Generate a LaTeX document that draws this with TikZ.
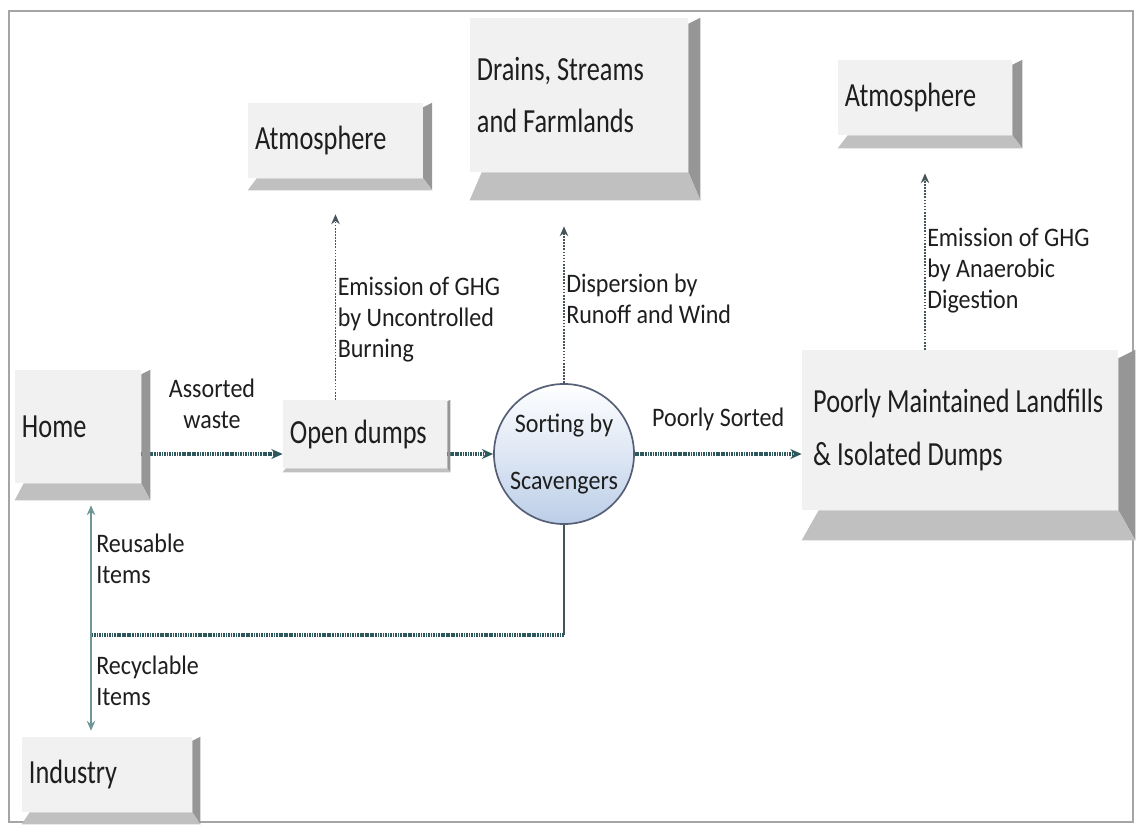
\documentclass[tikz,border=0pt]{standalone}
\usepackage{fontspec}
\setmainfont{Carlito}
\newfontfamily\boxfont{Carlito}[FakeStretch=0.78]
\newfontfamily\labfont{Carlito}[FakeStretch=0.9]
\usetikzlibrary{arrows.meta,calc}
\definecolor{boxface}{RGB}{241,241,241}
\definecolor{sideface}{RGB}{150,150,150}
\definecolor{baseface}{RGB}{192,192,192}
\definecolor{txtgray}{RGB}{30,30,30}
\definecolor{flowc}{RGB}{45,88,92}
\definecolor{emitc}{RGB}{70,85,90}
\definecolor{backc}{RGB}{110,150,150}
\definecolor{framec}{RGB}{165,165,165}
\definecolor{sortblue}{RGB}{188,206,232}
\definecolor{sortline}{RGB}{85,95,118}
\tikzset{
  box/.style={fill=boxface, inner xsep=5pt, align=flush left, text=txtgray, font=\boxfont\fontsize{24}{37}\selectfont},
  lab/.style={inner sep=1pt, align=left, text=txtgray, font=\labfont\fontsize{19}{22}\selectfont},
  flow/.style={draw=flowc, line width=2.4pt, dash pattern=on 1.2pt off 0.6pt, -{Stealth[length=8pt,width=7pt]}},
  emit/.style={draw=emitc, line width=1.2pt, densely dotted, -{Stealth[length=7pt,width=6pt]}},
  back/.style={draw=backc, line width=1.5pt, -{Stealth[length=7pt,width=6pt]}}
}
\begin{document}
\begin{tikzpicture}[x=0.025cm, y=-0.025cm]
\useasboundingbox (0,0) rectangle (1137,824);
\draw[framec, line width=1.2pt] (9,11) rectangle (1133,822);
\node[box, minimum height=2.825cm, text width=2.8cm] (home) at (78,426.5) {Home};
\node[box, minimum height=1.7cm, text width=3.75cm] (dumps) at (365,434) {Open dumps};
\node[box, minimum height=1.875cm, text width=4.02cm] (atmL) at (335.5,140.5) {Atmosphere};
\node[box, minimum height=3.85cm, text width=5.1cm] (drains) at (579,95) {Drains, Streams\\and Farmlands};
\node[box, minimum height=1.875cm, text width=4cm] (atmR) at (925,97.5) {Atmosphere};
\node[box, minimum height=4cm, text width=7.55cm] (landfill) at (960,430) {\hspace{3pt}Poorly Maintained Landfills\\\hspace{3pt}\& Isolated Dumps};
\node[box, minimum height=1.875cm, text width=3.9cm] (industry) at (107,774.5) {Industry};
\node[circle, minimum size=3.5cm, inner sep=0pt, draw=sortline, line width=1.2pt, top color=white, bottom color=sortblue, lab, align=center] (sort) at (564,454) {Sorting by\\[18pt]Scavengers};
\coordinate (split) at (91,635);
\draw[flow] (home.east |- sort.center) -- (dumps.west |- sort.center) node[lab, midway, above=16pt, align=center] {Assorted\\waste};
\draw[flow] (dumps.east |- sort.center) -- (sort.west);
\draw[flow] (sort.east) -- (landfill.west |- sort.center) node[lab, midway, above=14pt] {Poorly Sorted};
\draw[emit, shorten >=0.9cm] (dumps.north -| atmL.south) -- (atmL.south) node[lab, pos=.36, anchor=west] {Emission of GHG\\by Uncontrolled\\Burning};
\draw[emit, shorten >=1.35cm] (sort.north) -- (sort.north |- drains.south) node[lab, pos=.4, anchor=west] {Dispersion by\\Runoff and Wind};
\draw[emit, shorten >=0.95cm] (landfill.north -| atmR.south) -- (atmR.south) node[lab, pos=.37, anchor=west] {Emission of GHG\\by Anaerobic\\Digestion};
\draw[emitc, line width=1.5pt] (sort.south) -- (sort.south |- split);
\draw[flow, -] (sort.south |- split) -- (split);
\draw[back, shorten >=0.55cm] (split) -- (split |- home.south) node[lab, pos=.5, anchor=west, xshift=2pt] {Reusable\\Items};
\draw[back, shorten >=0.15cm] (split) -- (split |- industry.north) node[lab, pos=.45, anchor=west, xshift=2pt] {Recyclable\\Items};
\foreach \n/\rd/\bd in {home/9/17, dumps/3/4, atmL/9/12, drains/12/28, atmR/10/13, landfill/17/30, industry/8/12} {
  \fill[sideface] ($(\n.north east)+(0,\rd*0.5)$) -- ($(\n.north east)+(\rd,0)$) -- ($(\n.south east)+(\rd,\bd)$) -- (\n.south east) -- cycle;
  \fill[baseface] ($(\n.south west)+(\rd,0)$) -- (\n.south east) -- ($(\n.south east)+(\rd,\bd)$) -- ($(\n.south west)+(0,\bd)$) -- cycle;
}
\end{tikzpicture}
\end{document}
